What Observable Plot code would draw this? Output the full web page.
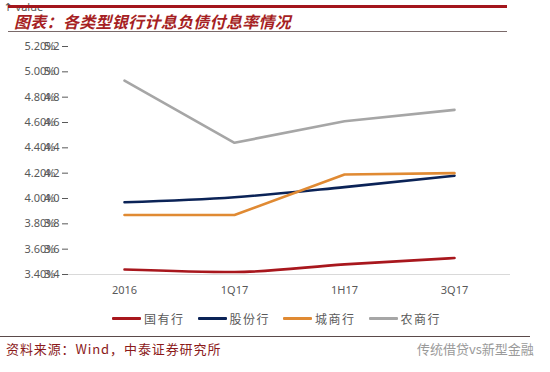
<!DOCTYPE html>
<html><head><meta charset="utf-8">
<script src="https://cdn.jsdelivr.net/npm/d3@7"></script>
<script src="https://cdn.jsdelivr.net/npm/@observablehq/plot@0.6"></script>
<style>
html,body{margin:0;padding:0;background:#fff;}
#page{position:relative;width:550px;height:372px;overflow:hidden;font-family:"Noto Sans CJK SC","Noto Sans",sans-serif;}
#chart{display:block;}
#topbar{position:absolute;left:8px;top:5px;width:499px;height:3px;background:#A3161C;}
#title{position:absolute;left:14px;top:9px;font-size:16px;font-weight:bold;font-style:italic;color:#A61F24;letter-spacing:0.3px;white-space:nowrap;}
#titleline{position:absolute;left:8px;top:31px;width:499px;height:1px;background:#7a6a6a;}
#legend{position:absolute;top:310px;left:112px;display:flex;align-items:center;font-size:12px;color:#595959;white-space:nowrap;letter-spacing:1.5px;}
#legend .item{display:flex;align-items:center;margin-right:13px;}
#legend .sw{width:29px;height:3px;margin-right:3px;border-radius:1px;}
#botline{position:absolute;left:0;top:336px;width:530px;height:1px;background:#5a4a4a;}
#source{position:absolute;left:6px;top:339px;font-size:13px;color:#8B1A1A;white-space:nowrap;letter-spacing:0.9px;}
#mark{position:absolute;left:417px;top:339px;font-size:13px;color:#9a9a9a;white-space:nowrap;}
</style>
</head><body>
<div id="page">
  <div id="chart"></div>
  <div id="topbar"></div>
  <div id="title">图表：各类型银行计息负债付息率情况</div>
  <div id="titleline"></div>
  <div id="legend"></div>
  <div id="botline"></div>
  <div id="source">资料来源：Wind，中泰证券研究所</div>
  <div id="mark">传统借贷vs新型金融</div>
</div>
<script>
const periods = ["2016", "1Q17", "1H17", "3Q17"];
const seriesNames = ["国有行", "股份行", "城商行", "农商行"];
const seriesColors = ["#A8171D", "#0B2357", "#E08A33", "#A6A6A6"];
const stateOwned = [3.44, 3.42, 3.48, 3.53];
const jointStock = [3.97, 4.01, 4.09, 4.18];
const cityComm = [3.87, 3.87, 4.19, 4.20];
const ruralComm = [4.93, 4.44, 4.61, 4.70];
const yTicks = [3.4, 3.6, 3.8, 4.0, 4.2, 4.4, 4.6, 4.8, 5.0, 5.2];

const seriesValues = [stateOwned, jointStock, cityComm, ruralComm];
const data = [];
seriesNames.forEach((s, i) => periods.forEach((p, j) => data.push({series: s, period: p, value: seriesValues[i][j]})));

const chart = Plot.plot({
  width: 550,
  height: 300,
  marginTop: 46,
  marginBottom: 26,
  marginLeft: 68,
  marginRight: 40,
  style: {fontFamily: "'Noto Sans', 'DejaVu Sans', sans-serif", fontSize: "11px", color: "#595959", background: "transparent"},
  x: {type: "point", domain: periods, padding: 0.5},
  y: {domain: [3.4, 5.2]},
  color: {domain: seriesNames, range: seriesColors},
  marks: [
    Plot.text(yTicks, {y: d => d, text: d => d.toFixed(2) + "%", frameAnchor: "left", textAnchor: "end", dx: -13, fill: "#595959", fontSize: 11}),
    Plot.axisX(periods, {label: null, tickSize: 0, tickPadding: 12}),
    Plot.ruleY([3.4], {stroke: "#d9d9d9", strokeWidth: 1}),
    Plot.line(data.filter(d => d.series === "国有行" || d.series === "股份行"), {x: "period", y: "value", stroke: "series", strokeWidth: 2.6, curve: "monotone-x"}),
    Plot.line(data.filter(d => d.series === "城商行" || d.series === "农商行"), {x: "period", y: "value", stroke: "series", strokeWidth: 2.6, curve: "linear"})
  ]
});
document.getElementById("chart").appendChild(chart);

const legend = document.getElementById("legend");
seriesNames.forEach((s, i) => {
  const it = document.createElement("div");
  it.className = "item";
  it.innerHTML = `<span class="sw" style="background:${seriesColors[i]}"></span><span>${s}</span>`;
  legend.appendChild(it);
});
</script>
</body></html>
